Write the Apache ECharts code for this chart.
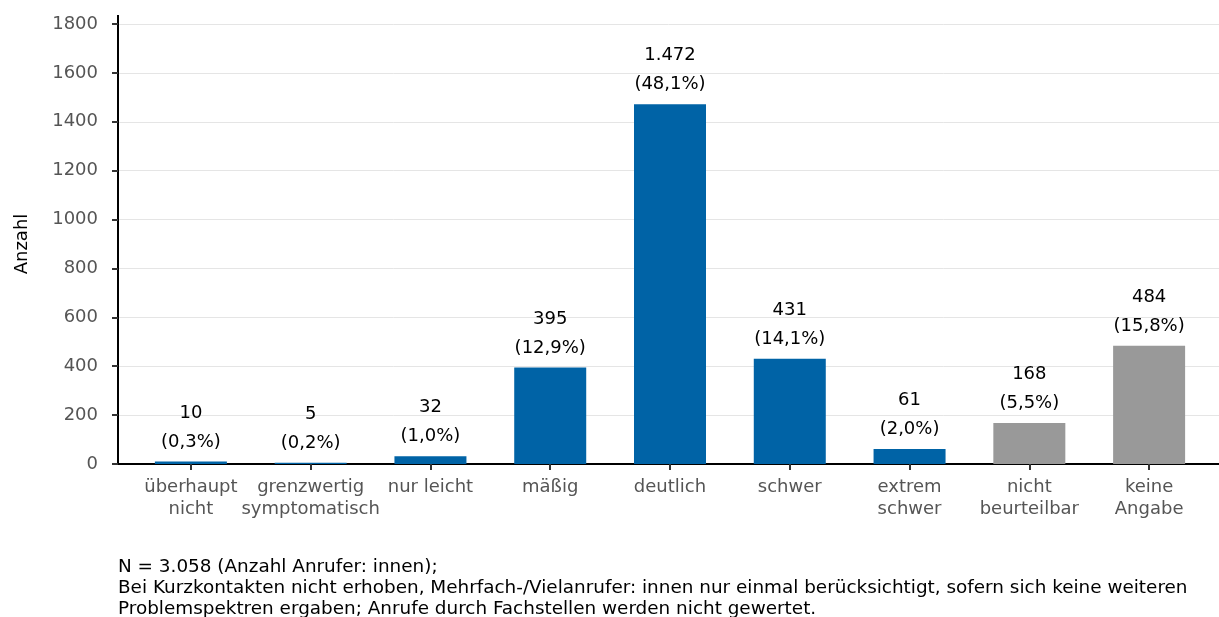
<!DOCTYPE html>
<html><head><meta charset="utf-8">
<script src="https://cdn.jsdelivr.net/npm/echarts@6/dist/echarts.min.js"></script>
<style>html,body{margin:0;padding:0;background:#fff}#c{width:1219px;height:617px}</style>
</head><body><div id="c"></div>
<script>
const categories = ['überhaupt\nnicht','grenzwertig\nsymptomatisch','nur leicht','mäßig','deutlich','schwer','extrem\nschwer','nicht\nbeurteilbar','keine\nAngabe'];
const counts = [10,5,32,395,1472,431,61,168,484];
const countLabels = ['10','5','32','395','1.472','431','61','168','484'];
const percentLabels = ['0,3%','0,2%','1,0%','12,9%','48,1%','14,1%','2,0%','5,5%','15,8%'];
const barColors = ['#0063a6','#0063a6','#0063a6','#0063a6','#0063a6','#0063a6','#0063a6','#999999','#999999'];
const yTicks = {min:0, max:1800, interval:200};
const yTitle = 'Anzahl';
const footnote = ['N = 3.058 (Anzahl Anrufer: innen);','Bei Kurzkontakten nicht erhoben, Mehrfach-/Vielanrufer: innen nur einmal berücksichtigt, sofern sich keine weiteren','Problemspektren ergaben; Anrufe durch Fachstellen werden nicht gewertet.'];

const chart = echarts.init(document.getElementById('c'), null, {renderer:'canvas'});
const font = '"DejaVu Sans", sans-serif';
const fs = 18;
chart.setOption({
  animation:false,
  textStyle:{fontFamily:font},
  grid:[
    {left:118, right:0, top:24, bottom:153},
    {left:131, right:10, top:24, bottom:153}
  ],
  xAxis:[
    {gridIndex:0, type:'value', min:0, max:1, axisLine:{show:true, onZero:false, lineStyle:{color:'#000', width:2}}, axisTick:{show:false}, axisLabel:{show:false}, splitLine:{show:false}},
    {gridIndex:1, type:'category', data:categories, axisLine:{show:false}, axisTick:{show:true, alignWithLabel:true, length:6, lineStyle:{color:'#333', width:2}}, axisLabel:{color:'#555', fontSize:fs, lineHeight:22, margin:12, interval:0, fontFamily:font}}
  ],
  yAxis:[
    {gridIndex:0, type:'value', min:yTicks.min, max:yTicks.max, interval:yTicks.interval, name:yTitle, nameLocation:'middle', nameGap:87, nameTextStyle:{color:'#000', fontSize:fs, fontFamily:font},
     axisLine:{show:true, lineStyle:{color:'#000', width:2}}, axisTick:{show:true, length:6, lineStyle:{color:'#333', width:2}},
     axisLabel:{color:'#555', fontSize:fs, margin:20, fontFamily:font, formatter:v=>String(v)}, splitLine:{show:true, lineStyle:{color:'#e5e5e5', width:1}}},
    {gridIndex:1, type:'value', min:yTicks.min, max:yTicks.max, interval:yTicks.interval, show:false, splitLine:{show:false}}
  ],
  series:[{
    type:'bar', xAxisIndex:1, yAxisIndex:1, barWidth:72,
    data:counts.map((v,i)=>({value:v, itemStyle:{color:barColors[i]}})),
    label:{show:true, position:'top', distance:5, color:'#000', fontSize:fs, lineHeight:29, fontFamily:font,
      formatter:p=>countLabels[p.dataIndex]+'\n('+percentLabels[p.dataIndex]+')'}
  }],
  graphic:[
    {type:'line', shape:{x1:118, y1:15, x2:118, y2:25}, style:{stroke:'#000', lineWidth:2}},
    {type:'text', left:118, top:557, style:{text:footnote.join('\n'), font:'18.4px '+font, fill:'#000', lineHeight:21}}
  ]
});
</script></body></html>
